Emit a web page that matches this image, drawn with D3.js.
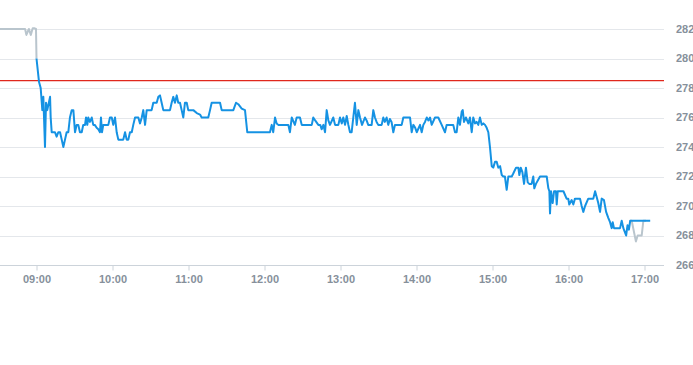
<!DOCTYPE html>
<html>
<head>
<meta charset="utf-8">
<script src="https://cdn.jsdelivr.net/npm/d3@7"></script>
<style>
  html, body { margin: 0; padding: 0; background: #fff; }
  svg { display: block; }
  text { font-family: "Liberation Sans", Arial, sans-serif; }
</style>
</head>
<body>
<svg id="chart" width="693" height="365"></svg>
<script>
// ---- data (minutes after 09:00, price) ----
const preMinutes = [-30, -9, -8, -6, -4.5, -3, -1.5, -0.4, 0];
const prePrices  = [282, 282, 281.6, 282, 281.6, 282.05, 282.05, 282, 280];

const postMinutes = [468.7, 469.9, 473.2, 474.6, 477.8, 479.1, 481.2];
const postPrices  = [269, 269, 267.6, 268, 268, 269, 269];

const blueMinutes = [0,2,3.3,4.6,5.4,6.7,7.5,8.5,10.7,11.2,12,14.6,15.9,17.2,18.6,19.9,21.2,22.5,23.8,25.1,26.4,27.8,29.1,30.4,31.7,33,34.3,35.7,36.9,38.3,39.1,40.1,40.9,42.2,43.6,44.8,46,47.5,48.8,50.1,50.9,51.7,52.7,56.7,58,59.4,60.6,62,63.3,64.6,67.3,68.5,69.9,71.2,72.5,73.8,75.2,76.4,77.8,80.4,81.7,83.1,84.3,85.7,87,90.9,92.2,94.9,96.2,97.5,98.8,100.1,105.4,106.7,108,109.3,110.7,111.9,113.3,114.6,115.9,117.2,118.6,119.8,123.8,126.5,129.1,130.4,135.6,137,138.3,143.5,144.9,146.2,155.4,157.5,159.3,162,164.6,166.4,184.3,185.7,186.9,188.3,189.6,190.9,198.8,200.1,201.5,204,205.4,208,209.4,217.3,218.5,220,222.5,224,225.1,226.5,227.8,229.1,230.4,231.7,234.3,235.7,238.3,239.6,241,242.2,243.6,244.9,246.2,247.5,248.8,250.1,251.4,252.8,254.1,255.4,257,259.3,260.6,261.9,264.6,265.9,267.2,268.5,269.8,272.5,273.8,275,276.4,277.7,279,280.3,281.7,283,288.3,289.6,294.9,296.2,297.5,299,300.2,302.8,304.1,305.4,306.7,308.1,309.4,310.7,312,314.6,317.2,319.9,322.5,323.8,329,330.4,331.7,333,334.3,335.7,336.5,337.5,339,340.9,342.2,343.6,344.8,346.2,347.5,348.8,350.1,351.5,352.8,354.1,355.4,356.7,358,359.4,360.6,362,363.3,364.6,366,367.3,368.5,369.8,371.2,372.5,375.2,376.4,378.6,380.4,381.2,382.3,383.6,384.9,386.4,387.8,389,390.9,392.2,393,394.3,397.5,402.8,404.1,404.9,405.4,406.2,407.5,408.6,410.1,410.7,411.5,414.6,416,418.5,419.8,420.6,422.5,423.8,425.1,429.1,430.4,431.7,433.1,435.6,439.6,441,442.3,443.5,444.9,446.2,448,449.7,451.4,452.8,454.1,454.9,455.9,460.7,462,463.3,465.5,466.6,467.7,468.7,484.5];
const bluePrices = [280,278.4,278,276.5,277.4,274,277,276.5,277.4,276,275,275,274.7,275,275,274.5,274,274.5,275,275,276,276.5,276.5,275,275.5,275.5,275,275,275.5,275.5,276,275.5,276,275.7,276,275.5,275.5,275.3,275.2,275,276,275,275.5,275.5,276,276,275.5,276,275,274.5,274.5,274.5,275,274.5,274.5,275,275,275.5,276,276,275.6,276,276.5,275.5,276.5,276.5,277,277,277.4,277.5,277,276.5,276.5,277,277.4,277,277.5,277,277,276.5,276,277,277,276.5,276.5,276.3,276.2,276,276,276.5,277,277,277,276.5,276.5,277,276.9,276.6,276.5,275,275,275.5,275,276,275.6,275.5,275.5,275,276,275.5,276,276,275.5,275.5,276,275.8,275.5,275.5,275.2,275.5,275,276.5,275.8,275.5,276,275.5,275.5,276,275.6,276,275.5,276.1,275.5,275,275,276,277,275.5,276.5,276,275.5,276,275.8,275.5,275.5,276.5,276,275.7,275.5,275.5,276,275.7,276,275.5,275.9,275.7,275,275.5,275.5,276,276,275,275.5,275.3,275,275.5,275,275.5,275.7,276,275.8,276,275.5,276,276,275.5,275,275.5,275.5,275,275,276,275.5,276.4,276.5,275.7,276,275.6,276,275,276,275.6,275.7,275.5,276,275.5,275.6,275.5,275.3,275,274,272.7,272.6,273,273,272.6,272.7,272.1,272,272,271.1,272,272,272.2,272.6,272.6,272.1,272.6,272.3,271.5,272.6,271.6,271.5,271.5,272,271.2,271.5,272,272,271.2,271,269.5,271,270.2,271,271,270.1,271,271,271,270.5,270.5,270.1,270.4,270.1,270.5,270.5,270,269.6,270,270.5,270.5,271,270.6,270.2,269.6,270.5,270.4,269.6,269.2,268.9,268.5,268.9,268.5,268.5,269,268.5,268,268.7,268.4,269,269];

const referencePrice = 278.5;
const yTicks = [266, 268, 270, 272, 274, 276, 278, 280, 282];
const xTickHours = [9, 10, 11, 12, 13, 14, 15, 16, 17];

// ---- helpers ----
const base = new Date(2024, 0, 2, 9, 0, 0);
const toDate = m => new Date(base.getTime() + m * 60000);
const zip = (ms, ps) => ms.map((m, i) => ({ t: toDate(m), v: ps[i] }));

const preData = zip(preMinutes, prePrices);
const postData = zip(postMinutes, postPrices);
const blueData = zip(blueMinutes, bluePrices);

// ---- layout ----
const svg = d3.select("#chart");
const plotRight = 664;
const x = d3.scaleTime()
  .domain([new Date(2024, 0, 2, 8, 30), new Date(2024, 0, 2, 17, 15)])
  .range([-1.5, 663.5]);
const y = d3.scaleLinear().domain([266, 282]).range([265, 29]);

svg.append("defs").append("clipPath").attr("id", "clip")
  .append("rect").attr("x", 0).attr("y", 0).attr("width", plotRight).attr("height", 270);

// gridlines
svg.append("g").selectAll("line").data(yTicks.filter(d => d !== 266)).join("line")
  .attr("x1", 0).attr("x2", plotRight)
  .attr("y1", d => Math.round(y(d)) + 0.5).attr("y2", d => Math.round(y(d)) + 0.5)
  .attr("stroke", "#e4e7eb").attr("stroke-width", 1);

// y labels
svg.append("g").selectAll("text").data(yTicks).join("text")
  .attr("x", 676).attr("y", d => y(d)).attr("dy", "0.35em")
  .attr("fill", "#86909b").attr("font-size", 11).attr("font-weight", "bold")
  .text(d => d);

// x axis
const xAxisG = svg.append("g").attr("transform", "translate(0,265.5)");
xAxisG.append("line").attr("x1", 0).attr("x2", plotRight).attr("y1", 0).attr("y2", 0)
  .attr("stroke", "#ccd3da").attr("stroke-width", 1);
const tickDates = xTickHours.map(h => new Date(2024, 0, 2, h, 0));
xAxisG.call(d3.axisBottom(x).tickValues(tickDates).tickFormat(d3.timeFormat("%H:%M")).tickSize(5).tickPadding(5))
  .call(g => g.select(".domain").remove())
  .call(g => g.selectAll(".tick line").attr("stroke", "#ccd3da"))
  .call(g => g.selectAll(".tick text").attr("fill", "#86909b").attr("font-size", 11)
      .attr("font-weight", "bold").attr("font-family", "'Liberation Sans', Arial, sans-serif"));

// reference line
svg.append("line")
  .attr("x1", 0).attr("x2", plotRight)
  .attr("y1", y(referencePrice)).attr("y2", y(referencePrice))
  .attr("stroke", "#e0271c").attr("stroke-width", 1.3);

const line = d3.line().x(d => x(d.t)).y(d => y(d.v));
const plot = svg.append("g").attr("clip-path", "url(#clip)");

plot.append("path").datum(preData).attr("d", line)
  .attr("fill", "none").attr("stroke", "#b9c5cd").attr("stroke-width", 2).attr("stroke-linejoin", "round");
plot.append("path").datum(postData).attr("d", line)
  .attr("fill", "none").attr("stroke", "#b9c5cd").attr("stroke-width", 2).attr("stroke-linejoin", "round");
plot.append("path").datum(blueData).attr("d", line)
  .attr("fill", "none").attr("stroke", "#1592e3").attr("stroke-width", 2).attr("stroke-linejoin", "round");
</script>
</body>
</html>
